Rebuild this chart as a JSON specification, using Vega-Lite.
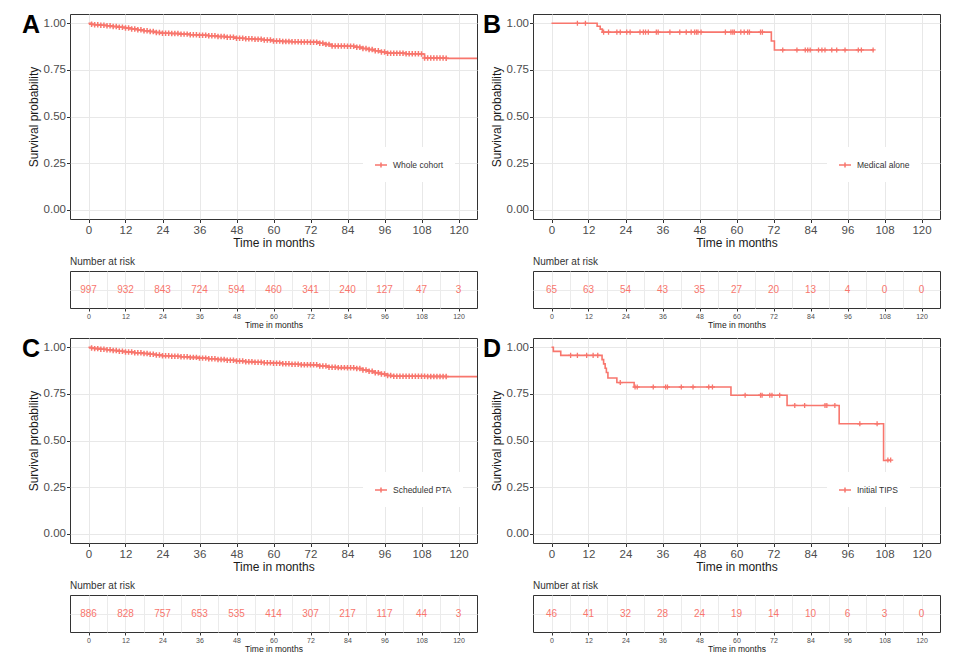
{
"$schema":"https://vega.github.io/schema/vega-lite/v6.json",
"padding":{"left":21,"top":12,"right":5,"bottom":5},
"background":"white",
"config":{
 "font":"Liberation Sans",
 "view":{"stroke":"#333333","strokeWidth":1},
 "title":{"fontWeight":"normal","color":"#1a1a1a"}
},
"datasets":{
 "curveA":[{"t":0,"s":1},{"t":1,"s":0.995},{"t":2,"s":0.992},{"t":4,"s":0.99},{"t":6,"s":0.987},{"t":8,"s":0.983},{"t":10,"s":0.979},{"t":12,"s":0.975},{"t":14,"s":0.97},{"t":16,"s":0.965},{"t":18,"s":0.96},{"t":20,"s":0.956},{"t":22,"s":0.951},{"t":24,"s":0.947},{"t":27,"s":0.945},{"t":30,"s":0.942},{"t":33,"s":0.939},{"t":36,"s":0.936},{"t":39,"s":0.933},{"t":42,"s":0.929},{"t":45,"s":0.925},{"t":48,"s":0.92},{"t":51,"s":0.917},{"t":54,"s":0.914},{"t":57,"s":0.91},{"t":60,"s":0.905},{"t":63,"s":0.903},{"t":66,"s":0.901},{"t":69,"s":0.9},{"t":72,"s":0.899},{"t":75,"s":0.893},{"t":77,"s":0.887},{"t":79,"s":0.878},{"t":84,"s":0.877},{"t":87,"s":0.871},{"t":89,"s":0.865},{"t":91,"s":0.859},{"t":93,"s":0.853},{"t":95,"s":0.846},{"t":97,"s":0.84},{"t":103,"s":0.837},{"t":108,"s":0.835},{"t":109,"s":0.814},{"t":116,"s":0.812},{"t":126,"s":0.812}],
 "censA":[{"t":1,"s":0.995},{"t":2,"s":0.992},{"t":3,"s":0.992},{"t":4,"s":0.99},{"t":5,"s":0.99},{"t":6,"s":0.987},{"t":7,"s":0.987},{"t":8,"s":0.983},{"t":9,"s":0.983},{"t":10,"s":0.979},{"t":11,"s":0.979},{"t":12,"s":0.975},{"t":13,"s":0.975},{"t":14,"s":0.97},{"t":15,"s":0.97},{"t":16,"s":0.965},{"t":17,"s":0.965},{"t":18,"s":0.96},{"t":19,"s":0.96},{"t":20,"s":0.956},{"t":21,"s":0.956},{"t":22,"s":0.951},{"t":23,"s":0.951},{"t":24,"s":0.947},{"t":25,"s":0.947},{"t":26,"s":0.947},{"t":27,"s":0.945},{"t":28,"s":0.945},{"t":29,"s":0.945},{"t":30,"s":0.942},{"t":31,"s":0.942},{"t":32,"s":0.942},{"t":33,"s":0.939},{"t":34,"s":0.939},{"t":35,"s":0.939},{"t":36,"s":0.936},{"t":37,"s":0.936},{"t":38,"s":0.936},{"t":39,"s":0.933},{"t":40,"s":0.933},{"t":41,"s":0.933},{"t":42,"s":0.929},{"t":43,"s":0.929},{"t":44,"s":0.929},{"t":45,"s":0.925},{"t":46,"s":0.925},{"t":47,"s":0.925},{"t":48,"s":0.92},{"t":49,"s":0.92},{"t":50,"s":0.92},{"t":51,"s":0.917},{"t":52,"s":0.917},{"t":53,"s":0.917},{"t":54,"s":0.914},{"t":55,"s":0.914},{"t":56,"s":0.914},{"t":57,"s":0.91},{"t":58,"s":0.91},{"t":59,"s":0.91},{"t":60,"s":0.905},{"t":61,"s":0.905},{"t":62,"s":0.905},{"t":63,"s":0.903},{"t":64,"s":0.903},{"t":65,"s":0.903},{"t":66,"s":0.901},{"t":67,"s":0.901},{"t":68,"s":0.901},{"t":69,"s":0.9},{"t":70,"s":0.9},{"t":71,"s":0.9},{"t":72,"s":0.899},{"t":73,"s":0.899},{"t":74,"s":0.899},{"t":75,"s":0.893},{"t":76,"s":0.893},{"t":77,"s":0.887},{"t":78,"s":0.887},{"t":79,"s":0.878},{"t":80,"s":0.878},{"t":81,"s":0.878},{"t":82,"s":0.878},{"t":83,"s":0.878},{"t":84,"s":0.877},{"t":85,"s":0.877},{"t":86,"s":0.877},{"t":87,"s":0.871},{"t":88,"s":0.871},{"t":89,"s":0.865},{"t":90,"s":0.865},{"t":91,"s":0.859},{"t":92,"s":0.859},{"t":93,"s":0.853},{"t":94,"s":0.853},{"t":95,"s":0.846},{"t":96,"s":0.846},{"t":97,"s":0.84},{"t":98,"s":0.84},{"t":99,"s":0.84},{"t":100,"s":0.84},{"t":101,"s":0.84},{"t":102,"s":0.84},{"t":103,"s":0.837},{"t":104,"s":0.837},{"t":105,"s":0.837},{"t":106,"s":0.837},{"t":107,"s":0.837},{"t":108,"s":0.835},{"t":109,"s":0.814},{"t":110,"s":0.814},{"t":111,"s":0.814},{"t":112,"s":0.814},{"t":113,"s":0.814},{"t":114,"s":0.814},{"t":115,"s":0.814},{"t":116,"s":0.812}],
 "curveB":[{"t":0,"s":1},{"t":14.8,"s":0.984},{"t":15.8,"s":0.969},{"t":16.5,"s":0.953},{"t":71.3,"s":0.905},{"t":72.3,"s":0.857},{"t":104.6,"s":0.857}],
 "censB":[{"t":8.4,"s":1},{"t":11,"s":1},{"t":16.9,"s":0.953},{"t":18.5,"s":0.953},{"t":21.2,"s":0.953},{"t":22.3,"s":0.953},{"t":24.4,"s":0.953},{"t":25.5,"s":0.953},{"t":28.7,"s":0.953},{"t":29.8,"s":0.953},{"t":30.5,"s":0.953},{"t":31.4,"s":0.953},{"t":34,"s":0.953},{"t":34.6,"s":0.953},{"t":38.4,"s":0.953},{"t":41.6,"s":0.953},{"t":43.7,"s":0.953},{"t":45.3,"s":0.953},{"t":46.4,"s":0.953},{"t":47,"s":0.953},{"t":47.5,"s":0.953},{"t":48.5,"s":0.953},{"t":56.4,"s":0.953},{"t":58.2,"s":0.953},{"t":58.8,"s":0.953},{"t":59.3,"s":0.953},{"t":61.4,"s":0.953},{"t":62.5,"s":0.953},{"t":63.6,"s":0.953},{"t":64.2,"s":0.953},{"t":67.8,"s":0.953},{"t":68.4,"s":0.953},{"t":75,"s":0.857},{"t":79.6,"s":0.857},{"t":82.3,"s":0.857},{"t":83.1,"s":0.857},{"t":83.9,"s":0.857},{"t":86.6,"s":0.857},{"t":87.7,"s":0.857},{"t":88.7,"s":0.857},{"t":90.9,"s":0.857},{"t":92.5,"s":0.857},{"t":95.2,"s":0.857},{"t":99.5,"s":0.857},{"t":100.5,"s":0.857},{"t":104.3,"s":0.857}],
 "curveC":[{"t":0,"s":1},{"t":1,"s":0.996},{"t":2,"s":0.993},{"t":4,"s":0.99},{"t":6,"s":0.987},{"t":8,"s":0.983},{"t":10,"s":0.979},{"t":12,"s":0.975},{"t":15,"s":0.971},{"t":18,"s":0.967},{"t":20,"s":0.963},{"t":22,"s":0.959},{"t":24,"s":0.955},{"t":27,"s":0.952},{"t":30,"s":0.949},{"t":33,"s":0.946},{"t":36,"s":0.942},{"t":39,"s":0.939},{"t":42,"s":0.935},{"t":45,"s":0.931},{"t":48,"s":0.926},{"t":51,"s":0.923},{"t":54,"s":0.92},{"t":57,"s":0.917},{"t":60,"s":0.915},{"t":63,"s":0.912},{"t":66,"s":0.909},{"t":69,"s":0.907},{"t":72,"s":0.906},{"t":75,"s":0.9},{"t":78,"s":0.893},{"t":81,"s":0.891},{"t":84,"s":0.89},{"t":87,"s":0.886},{"t":89,"s":0.878},{"t":91,"s":0.871},{"t":93,"s":0.864},{"t":95,"s":0.857},{"t":97,"s":0.849},{"t":99,"s":0.845},{"t":110,"s":0.844},{"t":116,"s":0.843},{"t":126,"s":0.843}],
 "censC":[{"t":1,"s":0.996},{"t":2,"s":0.993},{"t":3,"s":0.993},{"t":4,"s":0.99},{"t":5,"s":0.99},{"t":6,"s":0.987},{"t":7,"s":0.987},{"t":8,"s":0.983},{"t":9,"s":0.983},{"t":10,"s":0.979},{"t":11,"s":0.979},{"t":12,"s":0.975},{"t":13,"s":0.975},{"t":14,"s":0.975},{"t":15,"s":0.971},{"t":16,"s":0.971},{"t":17,"s":0.971},{"t":18,"s":0.967},{"t":19,"s":0.967},{"t":20,"s":0.963},{"t":21,"s":0.963},{"t":22,"s":0.959},{"t":23,"s":0.959},{"t":24,"s":0.955},{"t":25,"s":0.955},{"t":26,"s":0.955},{"t":27,"s":0.952},{"t":28,"s":0.952},{"t":29,"s":0.952},{"t":30,"s":0.949},{"t":31,"s":0.949},{"t":32,"s":0.949},{"t":33,"s":0.946},{"t":34,"s":0.946},{"t":35,"s":0.946},{"t":36,"s":0.942},{"t":37,"s":0.942},{"t":38,"s":0.942},{"t":39,"s":0.939},{"t":40,"s":0.939},{"t":41,"s":0.939},{"t":42,"s":0.935},{"t":43,"s":0.935},{"t":44,"s":0.935},{"t":45,"s":0.931},{"t":46,"s":0.931},{"t":47,"s":0.931},{"t":48,"s":0.926},{"t":49,"s":0.926},{"t":50,"s":0.926},{"t":51,"s":0.923},{"t":52,"s":0.923},{"t":53,"s":0.923},{"t":54,"s":0.92},{"t":55,"s":0.92},{"t":56,"s":0.92},{"t":57,"s":0.917},{"t":58,"s":0.917},{"t":59,"s":0.917},{"t":60,"s":0.915},{"t":61,"s":0.915},{"t":62,"s":0.915},{"t":63,"s":0.912},{"t":64,"s":0.912},{"t":65,"s":0.912},{"t":66,"s":0.909},{"t":67,"s":0.909},{"t":68,"s":0.909},{"t":69,"s":0.907},{"t":70,"s":0.907},{"t":71,"s":0.907},{"t":72,"s":0.906},{"t":73,"s":0.906},{"t":74,"s":0.906},{"t":75,"s":0.9},{"t":76,"s":0.9},{"t":77,"s":0.9},{"t":78,"s":0.893},{"t":79,"s":0.893},{"t":80,"s":0.893},{"t":81,"s":0.891},{"t":82,"s":0.891},{"t":83,"s":0.891},{"t":84,"s":0.89},{"t":85,"s":0.89},{"t":86,"s":0.89},{"t":87,"s":0.886},{"t":88,"s":0.886},{"t":89,"s":0.878},{"t":90,"s":0.878},{"t":91,"s":0.871},{"t":92,"s":0.871},{"t":93,"s":0.864},{"t":94,"s":0.864},{"t":95,"s":0.857},{"t":96,"s":0.857},{"t":97,"s":0.849},{"t":98,"s":0.849},{"t":99,"s":0.845},{"t":100,"s":0.845},{"t":101,"s":0.845},{"t":102,"s":0.845},{"t":103,"s":0.845},{"t":104,"s":0.845},{"t":105,"s":0.845},{"t":106,"s":0.845},{"t":107,"s":0.845},{"t":108,"s":0.845},{"t":109,"s":0.845},{"t":110,"s":0.844},{"t":111,"s":0.844},{"t":112,"s":0.844},{"t":113,"s":0.844},{"t":114,"s":0.844},{"t":115,"s":0.844},{"t":116,"s":0.843}],
 "curveD":[{"t":0,"s":1},{"t":0.6,"s":0.978},{"t":3,"s":0.957},{"t":16.4,"s":0.934},{"t":16.9,"s":0.911},{"t":17.4,"s":0.888},{"t":17.8,"s":0.865},{"t":18.3,"s":0.835},{"t":21.2,"s":0.811},{"t":26.8,"s":0.787},{"t":58.2,"s":0.743},{"t":76.4,"s":0.688},{"t":93.3,"s":0.59},{"t":107.7,"s":0.393},{"t":110,"s":0.393}],
 "censD":[{"t":6.2,"s":0.957},{"t":8.4,"s":0.957},{"t":11.4,"s":0.957},{"t":13.5,"s":0.957},{"t":15,"s":0.957},{"t":22.3,"s":0.811},{"t":27.1,"s":0.787},{"t":27.8,"s":0.787},{"t":33,"s":0.787},{"t":37,"s":0.787},{"t":37.6,"s":0.787},{"t":42.1,"s":0.787},{"t":45.9,"s":0.787},{"t":51,"s":0.787},{"t":52.2,"s":0.787},{"t":62.8,"s":0.743},{"t":67.8,"s":0.743},{"t":68.3,"s":0.743},{"t":70.8,"s":0.743},{"t":71.5,"s":0.743},{"t":74,"s":0.743},{"t":78.9,"s":0.688},{"t":82.1,"s":0.688},{"t":88.7,"s":0.688},{"t":89.3,"s":0.688},{"t":91.9,"s":0.688},{"t":100,"s":0.59},{"t":105.6,"s":0.59},{"t":109.1,"s":0.395},{"t":110,"s":0.395}],
 "riskA":[{"t":0,"n":997,"g":"Whole cohort"},{"t":12,"n":932,"g":"Whole cohort"},{"t":24,"n":843,"g":"Whole cohort"},{"t":36,"n":724,"g":"Whole cohort"},{"t":48,"n":594,"g":"Whole cohort"},{"t":60,"n":460,"g":"Whole cohort"},{"t":72,"n":341,"g":"Whole cohort"},{"t":84,"n":240,"g":"Whole cohort"},{"t":96,"n":127,"g":"Whole cohort"},{"t":108,"n":47,"g":"Whole cohort"},{"t":120,"n":3,"g":"Whole cohort"}],
 "riskB":[{"t":0,"n":65,"g":"Medical alone"},{"t":12,"n":63,"g":"Medical alone"},{"t":24,"n":54,"g":"Medical alone"},{"t":36,"n":43,"g":"Medical alone"},{"t":48,"n":35,"g":"Medical alone"},{"t":60,"n":27,"g":"Medical alone"},{"t":72,"n":20,"g":"Medical alone"},{"t":84,"n":13,"g":"Medical alone"},{"t":96,"n":4,"g":"Medical alone"},{"t":108,"n":0,"g":"Medical alone"},{"t":120,"n":0,"g":"Medical alone"}],
 "riskC":[{"t":0,"n":886,"g":"Scheduled PTA"},{"t":12,"n":828,"g":"Scheduled PTA"},{"t":24,"n":757,"g":"Scheduled PTA"},{"t":36,"n":653,"g":"Scheduled PTA"},{"t":48,"n":535,"g":"Scheduled PTA"},{"t":60,"n":414,"g":"Scheduled PTA"},{"t":72,"n":307,"g":"Scheduled PTA"},{"t":84,"n":217,"g":"Scheduled PTA"},{"t":96,"n":117,"g":"Scheduled PTA"},{"t":108,"n":44,"g":"Scheduled PTA"},{"t":120,"n":3,"g":"Scheduled PTA"}],
 "riskD":[{"t":0,"n":46,"g":"Initial TIPS"},{"t":12,"n":41,"g":"Initial TIPS"},{"t":24,"n":32,"g":"Initial TIPS"},{"t":36,"n":28,"g":"Initial TIPS"},{"t":48,"n":24,"g":"Initial TIPS"},{"t":60,"n":19,"g":"Initial TIPS"},{"t":72,"n":14,"g":"Initial TIPS"},{"t":84,"n":10,"g":"Initial TIPS"},{"t":96,"n":6,"g":"Initial TIPS"},{"t":108,"n":3,"g":"Initial TIPS"},{"t":120,"n":0,"g":"Initial TIPS"}]
},
"columns":2,
"align":"each",
"bounds":"full",
"spacing":{"row":7,"column":4},
"resolve":{"scale":{"color":"independent"},"legend":{"color":"independent"}},
"concat":[
 {"width":407,"height":205,
  "title":{"text":"A","anchor":"start","frame":"group","fontSize":25,"fontWeight":"bold","color":"#000000","dx":-48,"dy":26,"offset":-18,"baseline":"alphabetic"},
  "layer":[
   {"data":{"name":"curveA"},"mark":{"type":"line","interpolate":"step-after","strokeWidth":1.6,"clip":true},
    "encoding":{
     "x":{"field":"t","type":"quantitative","scale":{"domain":[-6,126],"nice":false,"zero":false},"axis":{"values":[0,6,12,18,24,30,36,42,48,54,60,66,72,78,84,90,96,102,108,114,120],"labelExpr":"datum.value % 12 == 0 ? datum.label : ''","title":"Time in months","grid":true,"gridColor":{"condition":{"test":"datum.value % 12 != 0","value":"#F2F2F2"},"value":"#E8E8E8"},"tickOpacity":{"condition":{"test":"datum.value % 12 != 0","value":0},"value":1},"domain":false,"tickColor":"#333333","tickSize":3.5,"labelFontSize":11.5,"labelColor":"#4D4D4D","labelPadding":1.5,"labelOverlap":false,"labelFlush":false,"titleFontSize":12,"titleFontWeight":"normal","titleColor":"#1a1a1a","titlePadding":2}},
     "y":{"field":"s","type":"quantitative","scale":{"domain":[-0.05,1.05],"nice":false,"zero":false},"axis":{"values":[0,0.125,0.25,0.375,0.5,0.625,0.75,0.875,1],"labelExpr":"indexof([0,0.25,0.5,0.75,1], datum.value) >= 0 ? format(datum.value, '.2f') : ''","title":"Survival probability","grid":true,"gridColor":{"condition":{"test":"indexof([0,0.25,0.5,0.75,1], datum.value) < 0","value":"#F2F2F2"},"value":"#E8E8E8"},"tickOpacity":{"condition":{"test":"indexof([0,0.25,0.5,0.75,1], datum.value) < 0","value":0},"value":1},"domain":false,"tickColor":"#333333","tickSize":3.5,"labelFontSize":11.5,"labelColor":"#4D4D4D","labelPadding":1,"labelOverlap":false,"labelFlush":false,"titleFontSize":12,"titleFontWeight":"normal","titleColor":"#1a1a1a","titlePadding":3}},
     "color":{"datum":"Whole cohort","type":"nominal","scale":{"range":["#F8766D"]},"legend":{"orient":"none","legendX":293,"legendY":133,"title":null,"fillColor":"white","padding":11,"symbolType":"M-1,0H1M0,-0.4V0.4","symbolSize":144,"symbolStrokeWidth":1.5,"symbolStrokeColor":"#F8766D","symbolFillColor":"transparent","labelFontSize":8.5,"labelColor":"#333333","labelOffset":5}}
    }},
   {"data":{"name":"censA"},"mark":{"type":"point","shape":"M-1,0H1M0,-1V1","size":30,"strokeWidth":1.5,"filled":false,"color":"#F8766D","opacity":1,"clip":true},
    "encoding":{"x":{"field":"t","type":"quantitative"},"y":{"field":"s","type":"quantitative"}}}
  ]},
 {"width":407,"height":205,
  "title":{"text":"B","anchor":"start","frame":"group","fontSize":25,"fontWeight":"bold","color":"#000000","dx":-50,"dy":26,"offset":-18,"baseline":"alphabetic"},
  "layer":[
   {"data":{"name":"curveB"},"mark":{"type":"line","interpolate":"step-after","strokeWidth":1.6,"clip":true},
    "encoding":{
     "x":{"field":"t","type":"quantitative","scale":{"domain":[-6,126],"nice":false,"zero":false},"axis":{"values":[0,6,12,18,24,30,36,42,48,54,60,66,72,78,84,90,96,102,108,114,120],"labelExpr":"datum.value % 12 == 0 ? datum.label : ''","title":"Time in months","grid":true,"gridColor":{"condition":{"test":"datum.value % 12 != 0","value":"#F2F2F2"},"value":"#E8E8E8"},"tickOpacity":{"condition":{"test":"datum.value % 12 != 0","value":0},"value":1},"domain":false,"tickColor":"#333333","tickSize":3.5,"labelFontSize":11.5,"labelColor":"#4D4D4D","labelPadding":1.5,"labelOverlap":false,"labelFlush":false,"titleFontSize":12,"titleFontWeight":"normal","titleColor":"#1a1a1a","titlePadding":2}},
     "y":{"field":"s","type":"quantitative","scale":{"domain":[-0.05,1.05],"nice":false,"zero":false},"axis":{"values":[0,0.125,0.25,0.375,0.5,0.625,0.75,0.875,1],"labelExpr":"indexof([0,0.25,0.5,0.75,1], datum.value) >= 0 ? format(datum.value, '.2f') : ''","title":"Survival probability","grid":true,"gridColor":{"condition":{"test":"indexof([0,0.25,0.5,0.75,1], datum.value) < 0","value":"#F2F2F2"},"value":"#E8E8E8"},"tickOpacity":{"condition":{"test":"indexof([0,0.25,0.5,0.75,1], datum.value) < 0","value":0},"value":1},"domain":false,"tickColor":"#333333","tickSize":3.5,"labelFontSize":11.5,"labelColor":"#4D4D4D","labelPadding":1,"labelOverlap":false,"labelFlush":false,"titleFontSize":12,"titleFontWeight":"normal","titleColor":"#1a1a1a","titlePadding":3}},
     "color":{"datum":"Medical alone","type":"nominal","scale":{"range":["#F8766D"]},"legend":{"orient":"none","legendX":294,"legendY":133,"title":null,"fillColor":"white","padding":11,"symbolType":"M-1,0H1M0,-0.4V0.4","symbolSize":144,"symbolStrokeWidth":1.5,"symbolStrokeColor":"#F8766D","symbolFillColor":"transparent","labelFontSize":8.5,"labelColor":"#333333","labelOffset":5}}
    }},
   {"data":{"name":"censB"},"mark":{"type":"point","shape":"M-1,0H1M0,-1V1","size":26,"strokeWidth":1.3,"filled":false,"color":"#F8766D","opacity":1,"clip":true},
    "encoding":{"x":{"field":"t","type":"quantitative"},"y":{"field":"s","type":"quantitative"}}}
  ]},
 {"width":407,"height":37,
  "title":{"text":"Number at risk","anchor":"start","frame":"group","fontSize":10,"fontWeight":"normal","color":"#333333","offset":4},
  "data":{"name":"riskA"},
  "mark":{"type":"text","fontSize":10,"color":"#F8766D"},
  "encoding":{
   "x":{"field":"t","type":"quantitative","scale":{"domain":[-6,126],"nice":false,"zero":false},"axis":{"values":[0,6,12,18,24,30,36,42,48,54,60,66,72,78,84,90,96,102,108,114,120],"labelExpr":"datum.value % 12 == 0 ? datum.label : ''","title":"Time in months","grid":true,"gridColor":"#EBEBEB","tickOpacity":{"condition":{"test":"datum.value % 12 != 0","value":0},"value":1},"domain":false,"tickColor":"#333333","tickSize":3,"labelFontSize":7,"labelColor":"#4D4D4D","labelPadding":1,"labelOverlap":false,"labelFlush":false,"titleFontSize":8.5,"titleFontWeight":"normal","titleColor":"#1a1a1a","titlePadding":1}},
   "y":{"field":"g","type":"nominal","axis":{"title":null,"labels":false,"ticks":false,"domain":false,"grid":true,"gridColor":"#EBEBEB","minExtent":48,"maxExtent":48}},
   "text":{"field":"n","type":"quantitative"}
  }},
 {"width":407,"height":37,
  "title":{"text":"Number at risk","anchor":"start","frame":"group","fontSize":10,"fontWeight":"normal","color":"#333333","offset":4},
  "data":{"name":"riskB"},
  "mark":{"type":"text","fontSize":10,"color":"#F8766D"},
  "encoding":{
   "x":{"field":"t","type":"quantitative","scale":{"domain":[-6,126],"nice":false,"zero":false},"axis":{"values":[0,6,12,18,24,30,36,42,48,54,60,66,72,78,84,90,96,102,108,114,120],"labelExpr":"datum.value % 12 == 0 ? datum.label : ''","title":"Time in months","grid":true,"gridColor":"#EBEBEB","tickOpacity":{"condition":{"test":"datum.value % 12 != 0","value":0},"value":1},"domain":false,"tickColor":"#333333","tickSize":3,"labelFontSize":7,"labelColor":"#4D4D4D","labelPadding":1,"labelOverlap":false,"labelFlush":false,"titleFontSize":8.5,"titleFontWeight":"normal","titleColor":"#1a1a1a","titlePadding":1}},
   "y":{"field":"g","type":"nominal","axis":{"title":null,"labels":false,"ticks":false,"domain":false,"grid":true,"gridColor":"#EBEBEB","minExtent":50,"maxExtent":50}},
   "text":{"field":"n","type":"quantitative"}
  }},
 {"width":407,"height":205,
  "title":{"text":"C","anchor":"start","frame":"group","fontSize":25,"fontWeight":"bold","color":"#000000","dx":-48,"dy":26,"offset":-18,"baseline":"alphabetic"},
  "layer":[
   {"data":{"name":"curveC"},"mark":{"type":"line","interpolate":"step-after","strokeWidth":1.6,"clip":true},
    "encoding":{
     "x":{"field":"t","type":"quantitative","scale":{"domain":[-6,126],"nice":false,"zero":false},"axis":{"values":[0,6,12,18,24,30,36,42,48,54,60,66,72,78,84,90,96,102,108,114,120],"labelExpr":"datum.value % 12 == 0 ? datum.label : ''","title":"Time in months","grid":true,"gridColor":{"condition":{"test":"datum.value % 12 != 0","value":"#F2F2F2"},"value":"#E8E8E8"},"tickOpacity":{"condition":{"test":"datum.value % 12 != 0","value":0},"value":1},"domain":false,"tickColor":"#333333","tickSize":3.5,"labelFontSize":11.5,"labelColor":"#4D4D4D","labelPadding":1.5,"labelOverlap":false,"labelFlush":false,"titleFontSize":12,"titleFontWeight":"normal","titleColor":"#1a1a1a","titlePadding":2}},
     "y":{"field":"s","type":"quantitative","scale":{"domain":[-0.05,1.05],"nice":false,"zero":false},"axis":{"values":[0,0.125,0.25,0.375,0.5,0.625,0.75,0.875,1],"labelExpr":"indexof([0,0.25,0.5,0.75,1], datum.value) >= 0 ? format(datum.value, '.2f') : ''","title":"Survival probability","grid":true,"gridColor":{"condition":{"test":"indexof([0,0.25,0.5,0.75,1], datum.value) < 0","value":"#F2F2F2"},"value":"#E8E8E8"},"tickOpacity":{"condition":{"test":"indexof([0,0.25,0.5,0.75,1], datum.value) < 0","value":0},"value":1},"domain":false,"tickColor":"#333333","tickSize":3.5,"labelFontSize":11.5,"labelColor":"#4D4D4D","labelPadding":1,"labelOverlap":false,"labelFlush":false,"titleFontSize":12,"titleFontWeight":"normal","titleColor":"#1a1a1a","titlePadding":3}},
     "color":{"datum":"Scheduled PTA","type":"nominal","scale":{"range":["#F8766D"]},"legend":{"orient":"none","legendX":293,"legendY":134,"title":null,"fillColor":"white","padding":11,"symbolType":"M-1,0H1M0,-0.4V0.4","symbolSize":144,"symbolStrokeWidth":1.5,"symbolStrokeColor":"#F8766D","symbolFillColor":"transparent","labelFontSize":8.5,"labelColor":"#333333","labelOffset":5}}
    }},
   {"data":{"name":"censC"},"mark":{"type":"point","shape":"M-1,0H1M0,-1V1","size":30,"strokeWidth":1.5,"filled":false,"color":"#F8766D","opacity":1,"clip":true},
    "encoding":{"x":{"field":"t","type":"quantitative"},"y":{"field":"s","type":"quantitative"}}}
  ]},
 {"width":407,"height":205,
  "title":{"text":"D","anchor":"start","frame":"group","fontSize":25,"fontWeight":"bold","color":"#000000","dx":-50,"dy":26,"offset":-18,"baseline":"alphabetic"},
  "layer":[
   {"data":{"name":"curveD"},"mark":{"type":"line","interpolate":"step-after","strokeWidth":1.6,"clip":true},
    "encoding":{
     "x":{"field":"t","type":"quantitative","scale":{"domain":[-6,126],"nice":false,"zero":false},"axis":{"values":[0,6,12,18,24,30,36,42,48,54,60,66,72,78,84,90,96,102,108,114,120],"labelExpr":"datum.value % 12 == 0 ? datum.label : ''","title":"Time in months","grid":true,"gridColor":{"condition":{"test":"datum.value % 12 != 0","value":"#F2F2F2"},"value":"#E8E8E8"},"tickOpacity":{"condition":{"test":"datum.value % 12 != 0","value":0},"value":1},"domain":false,"tickColor":"#333333","tickSize":3.5,"labelFontSize":11.5,"labelColor":"#4D4D4D","labelPadding":1.5,"labelOverlap":false,"labelFlush":false,"titleFontSize":12,"titleFontWeight":"normal","titleColor":"#1a1a1a","titlePadding":2}},
     "y":{"field":"s","type":"quantitative","scale":{"domain":[-0.05,1.05],"nice":false,"zero":false},"axis":{"values":[0,0.125,0.25,0.375,0.5,0.625,0.75,0.875,1],"labelExpr":"indexof([0,0.25,0.5,0.75,1], datum.value) >= 0 ? format(datum.value, '.2f') : ''","title":"Survival probability","grid":true,"gridColor":{"condition":{"test":"indexof([0,0.25,0.5,0.75,1], datum.value) < 0","value":"#F2F2F2"},"value":"#E8E8E8"},"tickOpacity":{"condition":{"test":"indexof([0,0.25,0.5,0.75,1], datum.value) < 0","value":0},"value":1},"domain":false,"tickColor":"#333333","tickSize":3.5,"labelFontSize":11.5,"labelColor":"#4D4D4D","labelPadding":1,"labelOverlap":false,"labelFlush":false,"titleFontSize":12,"titleFontWeight":"normal","titleColor":"#1a1a1a","titlePadding":3}},
     "color":{"datum":"Initial TIPS","type":"nominal","scale":{"range":["#F8766D"]},"legend":{"orient":"none","legendX":294,"legendY":134,"title":null,"fillColor":"white","padding":11,"symbolType":"M-1,0H1M0,-0.4V0.4","symbolSize":144,"symbolStrokeWidth":1.5,"symbolStrokeColor":"#F8766D","symbolFillColor":"transparent","labelFontSize":8.5,"labelColor":"#333333","labelOffset":5}}
    }},
   {"data":{"name":"censD"},"mark":{"type":"point","shape":"M-1,0H1M0,-1V1","size":26,"strokeWidth":1.3,"filled":false,"color":"#F8766D","opacity":1,"clip":true},
    "encoding":{"x":{"field":"t","type":"quantitative"},"y":{"field":"s","type":"quantitative"}}}
  ]},
 {"width":407,"height":37,
  "title":{"text":"Number at risk","anchor":"start","frame":"group","fontSize":10,"fontWeight":"normal","color":"#333333","offset":4},
  "data":{"name":"riskC"},
  "mark":{"type":"text","fontSize":10,"color":"#F8766D"},
  "encoding":{
   "x":{"field":"t","type":"quantitative","scale":{"domain":[-6,126],"nice":false,"zero":false},"axis":{"values":[0,6,12,18,24,30,36,42,48,54,60,66,72,78,84,90,96,102,108,114,120],"labelExpr":"datum.value % 12 == 0 ? datum.label : ''","title":"Time in months","grid":true,"gridColor":"#EBEBEB","tickOpacity":{"condition":{"test":"datum.value % 12 != 0","value":0},"value":1},"domain":false,"tickColor":"#333333","tickSize":3,"labelFontSize":7,"labelColor":"#4D4D4D","labelPadding":1,"labelOverlap":false,"labelFlush":false,"titleFontSize":8.5,"titleFontWeight":"normal","titleColor":"#1a1a1a","titlePadding":1}},
   "y":{"field":"g","type":"nominal","axis":{"title":null,"labels":false,"ticks":false,"domain":false,"grid":true,"gridColor":"#EBEBEB","minExtent":48,"maxExtent":48}},
   "text":{"field":"n","type":"quantitative"}
  }},
 {"width":407,"height":37,
  "title":{"text":"Number at risk","anchor":"start","frame":"group","fontSize":10,"fontWeight":"normal","color":"#333333","offset":4},
  "data":{"name":"riskD"},
  "mark":{"type":"text","fontSize":10,"color":"#F8766D"},
  "encoding":{
   "x":{"field":"t","type":"quantitative","scale":{"domain":[-6,126],"nice":false,"zero":false},"axis":{"values":[0,6,12,18,24,30,36,42,48,54,60,66,72,78,84,90,96,102,108,114,120],"labelExpr":"datum.value % 12 == 0 ? datum.label : ''","title":"Time in months","grid":true,"gridColor":"#EBEBEB","tickOpacity":{"condition":{"test":"datum.value % 12 != 0","value":0},"value":1},"domain":false,"tickColor":"#333333","tickSize":3,"labelFontSize":7,"labelColor":"#4D4D4D","labelPadding":1,"labelOverlap":false,"labelFlush":false,"titleFontSize":8.5,"titleFontWeight":"normal","titleColor":"#1a1a1a","titlePadding":1}},
   "y":{"field":"g","type":"nominal","axis":{"title":null,"labels":false,"ticks":false,"domain":false,"grid":true,"gridColor":"#EBEBEB","minExtent":50,"maxExtent":50}},
   "text":{"field":"n","type":"quantitative"}
  }}
]
}
